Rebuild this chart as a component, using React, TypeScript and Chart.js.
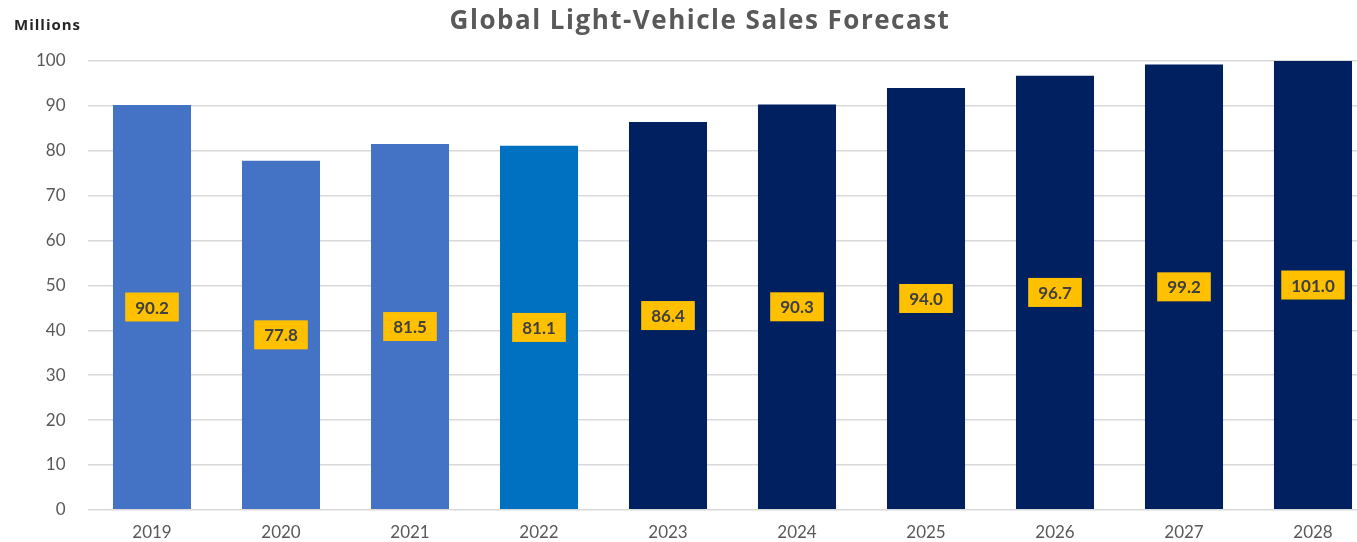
import React, { useEffect, useRef } from "react";
import { Chart, registerables } from "chart.js";

Chart.register(...registerables);

const years = ["2019", "2020", "2021", "2022", "2023", "2024", "2025", "2026", "2027", "2028"];
const sales = [90.2, 77.8, 81.5, 81.1, 86.4, 90.3, 94.0, 96.7, 99.2, 101.0];
const barColors = [
  "#4472C4", "#4472C4", "#4472C4", "#0070C0",
  "#002060", "#002060", "#002060", "#002060", "#002060", "#002060",
];
const titleText = "Global Light-Vehicle Sales Forecast";
const unitText = "Millions";

const labelPlugin = {
  id: "boxLabels",
  afterDatasetsDraw(chart: any) {
    const { ctx, chartArea } = chart;
    const meta = chart.getDatasetMeta(0);
    ctx.save();
    ctx.font = "bold 17px Lato, 'Open Sans', sans-serif";
    ctx.textAlign = "center";
    ctx.textBaseline = "middle";
    meta.data.forEach((bar: any, i: number) => {
      const top = Math.max(bar.y, chartArea.top);
      const bottom = Math.min(bar.base, chartArea.bottom);
      const cy = (top + bottom) / 2;
      const text = sales[i].toFixed(1);
      const w = ctx.measureText(text).width + 20;
      const h = 29;
      ctx.fillStyle = "#FFC000";
      ctx.fillRect(bar.x - w / 2, cy - h / 2, w, h);
      ctx.fillStyle = "#404040";
      ctx.fillText(text, bar.x, cy + 1);
    });
    ctx.restore();
  },
  afterDraw(chart: any) {
    const { ctx } = chart;
    ctx.save();
    ctx.textBaseline = "middle";
    ctx.textAlign = "center";
    ctx.fillStyle = "#595959";
    ctx.font = "bold 26px 'Open Sans', sans-serif";
    (ctx as any).letterSpacing = "1.5px";
    ctx.fillText(titleText, 700, 22);
    ctx.textAlign = "left";
    ctx.fillStyle = "#262626";
    ctx.font = "bold 15px 'Open Sans', sans-serif";
    (ctx as any).letterSpacing = "1px";
    ctx.fillText(unitText, 14, 26);
    ctx.restore();
  },
};

export default function App() {
  const ref = useRef<HTMLCanvasElement | null>(null);
  useEffect(() => {
    document.body.style.margin = "0";
    document.body.style.overflow = "hidden";
    const chart = new Chart(ref.current!, {
      type: "bar",
      data: {
        labels: years,
        datasets: [
          {
            data: sales,
            backgroundColor: barColors,
            barPercentage: 0.605,
            categoryPercentage: 1,
          },
        ],
      },
      options: {
        animation: false,
        responsive: true,
        maintainAspectRatio: false,
        layout: { padding: { top: 61, right: 2.5, left: 0, bottom: 0 } },
        plugins: {
          legend: { display: false },
          tooltip: { enabled: false },
          title: { display: false },
        },
        scales: {
          x: {
            grid: { display: false, drawTicks: false },
            border: { display: false },
            ticks: {
              color: "#595959",
              font: { family: "Lato, 'Open Sans', sans-serif", size: 17 },
              padding: 13,
              maxRotation: 0,
            },
            afterFit(scale: any) {
              scale.height = 32;
            },
          },
          y: {
            min: 0,
            max: 100,
            grid: { color: "#D9D9D9", lineWidth: 1.5, drawTicks: false },
            border: { display: false },
            ticks: {
              stepSize: 10,
              color: "#595959",
              font: { family: "Lato, 'Open Sans', sans-serif", size: 17 },
              padding: 22,
            },
            afterFit(scale: any) {
              scale.width = 87.5;
            },
          },
        },
      },
      plugins: [labelPlugin],
    });
    return () => chart.destroy();
  }, []);
  return (
    <div style={{ position: "relative", width: "1380px", height: "542px" }}>
      <canvas ref={ref} />
    </div>
  );
}
